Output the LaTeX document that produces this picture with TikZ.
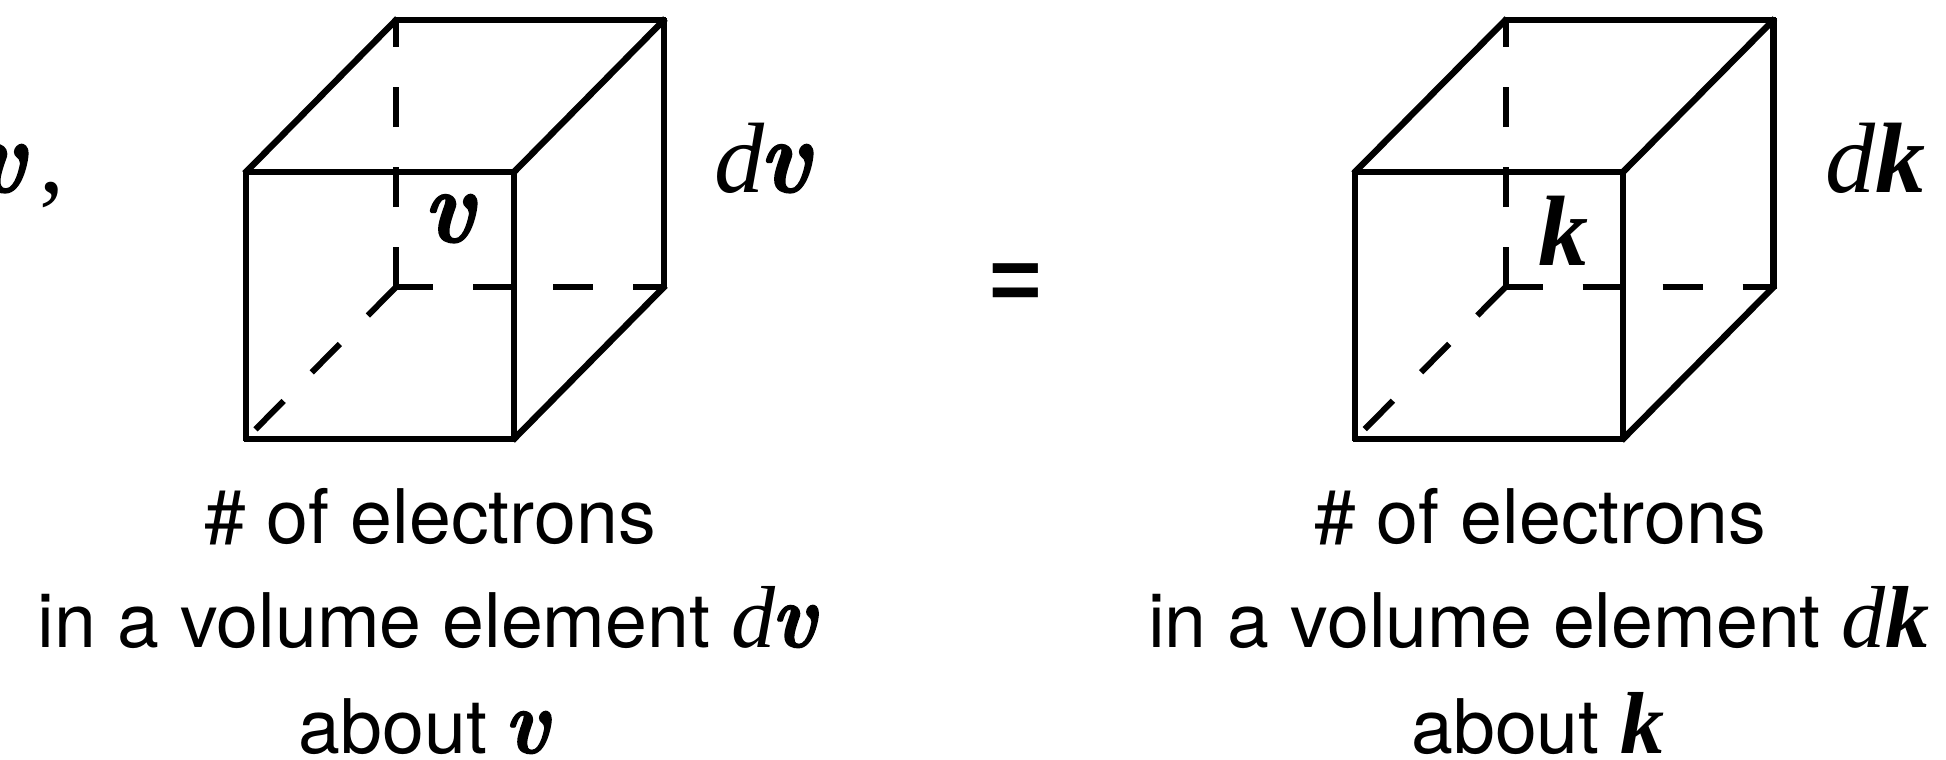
\documentclass[tikz,border=0pt]{standalone}
\usepackage{fontspec}
\setmainfont{TeX Gyre Heros}
\newfontfamily\tms{Liberation Serif}
\newfontfamily\lmv{lmroman10-bolditalic}[Extension=.otf,FakeBold=1.5,FakeStretch=0.92]
\newfontfamily\eqf{Liberation Sans}[BoldFont={Liberation Sans Bold}]
\newcommand{\bigtm}{\fontsize{100}{100}\selectfont}
\newcommand{\midtm}{\fontsize{88}{88}\selectfont}
\newcommand{\bvv}{{\fontsize{105}{105}\lmv v}}
\newcommand{\bvm}{{\fontsize{92}{92}\lmv v}}
\newcommand{\bkk}{{\tms\bfseries\itshape k}}
\newcommand{\di}{{\tms\itshape d}}
\tikzset{
  solidedge/.style={line width=6.4pt,line cap=butt,shorten <=-2pt,shorten >=-2pt},
  hiddenedge/.style={line width=6pt,line cap=butt,dash pattern=on 40pt off 40pt},
  hiddenh/.style={hiddenedge,dash phase=3pt},
  lab/.style={inner sep=0pt,anchor=base west},
  caption/.style={inner sep=0pt,anchor=base,font=\fontsize{75.3}{75.3}\selectfont},
}
\begin{document}
\begin{tikzpicture}[x=1pt,y=-1pt]
\fill[white] (0,0) rectangle (1946,760);
\useasboundingbox (0,0) rectangle (1946,760);
% left cube
\coordinate (fa) at (246,172); \coordinate (fb) at (514,172);
\coordinate (fc) at (514,439); \coordinate (fd) at (246,439);
\coordinate (ba) at (396,20);  \coordinate (bb) at (664,20);
\coordinate (bc) at (664,287); \coordinate (bd) at (396,287);
\draw[solidedge] (fa)--(fb); \draw[solidedge] (fb)--(fc); \draw[solidedge] (fc)--(fd); \draw[solidedge] (fd)--(fa);
\draw[solidedge] (ba)--(bb); \draw[solidedge] (bb)--(bc);
\draw[solidedge] (fa)--(ba); \draw[solidedge] (fb)--(bb); \draw[solidedge] (fc)--(bc);
\draw[hiddenedge] (bd)--(ba); \draw[hiddenh] (bd)--(bc); \draw[hiddenedge] (bd)--(fd);
% right cube
\coordinate (ga) at (1355,172); \coordinate (gb) at (1623,172);
\coordinate (gc) at (1623,439); \coordinate (gd) at (1355,439);
\coordinate (ca) at (1505.5,20);  \coordinate (cb) at (1773.5,20);
\coordinate (cc) at (1773.5,287); \coordinate (cd) at (1505.5,287);
\draw[solidedge] (ga)--(gb); \draw[solidedge] (gb)--(gc); \draw[solidedge] (gc)--(gd); \draw[solidedge] (gd)--(ga);
\draw[solidedge] (ca)--(cb); \draw[solidedge] (cb)--(cc);
\draw[solidedge] (ga)--(ca); \draw[solidedge] (gb)--(cb); \draw[solidedge] (gc)--(cc);
\draw[hiddenedge] (cd)--(ca); \draw[hiddenh] (cd)--(cc); \draw[hiddenedge] (cd)--(gd);
% labels
\node[lab] (vcut) at (-26,192) {\bvv};
\node[lab] (comma) at (39,192) {\bigtm\tms ,};
\node[lab] (vin) at (423,242) {\bvv};
\node[lab] (dv) at (714,192) {\bigtm\di\kern-5pt\bvv};
\node[lab] (kin) at (1538,265) {\bigtm\bkk};
\node[lab] (dk) at (1825,192) {\bigtm\di\bkk};
\node[inner sep=0pt,anchor=base] (eq) at (1016,310) {\eqf\fontsize{90}{90}\selectfont\bfseries =};
% captions
\node[caption] (c1) at (430,543) {\# of electrons};
\node[caption] (c2) at (427,647) {in a volume element \midtm\di\kern-4pt\bvm};
\node[caption] (c3) at (424,753) {about \kern-4pt\midtm\bvm};
\node[caption] (d1) at (1540,543) {\# of electrons};
\node[caption] (d2) at (1539,647) {in a volume element \midtm\di\bkk};
\node[caption] (d3) at (1538,753) {about \midtm\bkk};
\end{tikzpicture}
\end{document}
